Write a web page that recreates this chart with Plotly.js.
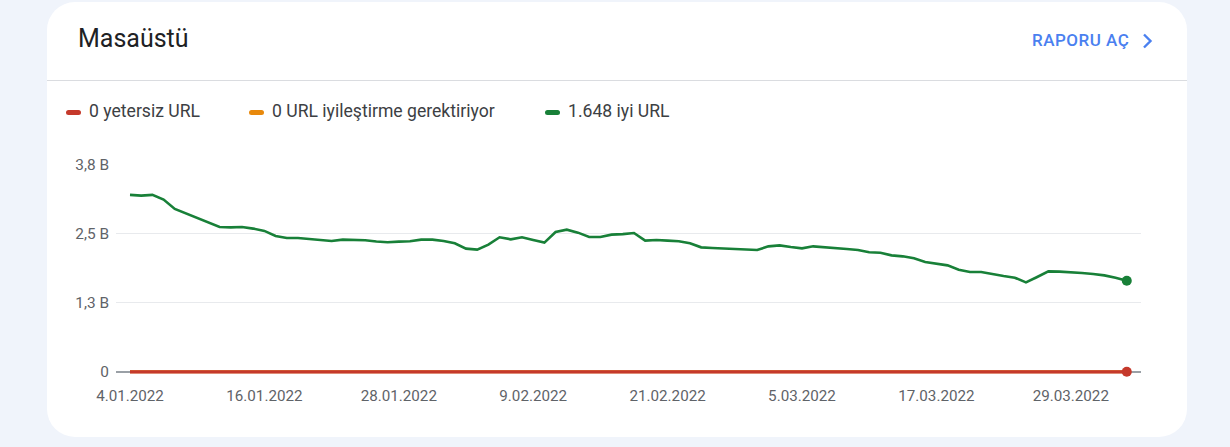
<!DOCTYPE html>
<html>
<head>
<meta charset="utf-8">
<script src="https://cdn.plot.ly/plotly-3.0.1.min.js"></script>
<style>
  html, body { margin:0; padding:0; width:1230px; height:447px; overflow:hidden; background:#f0f4fb; font-family:Roboto, "Noto Sans", sans-serif; }
  #card { position:absolute; left:47px; top:2px; width:1140px; height:435px; background:#fff; border-radius:28px; }
  #title { position:absolute; left:78px; top:24px; font-size:25px; color:#202124; font-weight:400; }
  #link { position:absolute; left:1032px; top:30px; font-size:17px; font-weight:500; color:#4a80f0; letter-spacing:0.5px; }
  #chev { position:absolute; left:1141px; top:33px; }
  #divider { position:absolute; left:47px; top:80px; width:1140px; height:1px; background:#dadce0; }
  .leg { position:absolute; top:101px; font-size:17.6px; color:#3c4043; white-space:nowrap; }
  .pill { position:absolute; top:9px; width:15px; height:5px; border-radius:3px; }
  .leg span.t { position:absolute; left:23px; top:0; }
  #chart { position:absolute; left:0; top:0; width:1230px; height:447px; }
</style>
</head>
<body>
<div id="card"></div>
<div id="title">Masaüstü</div>
<div id="link">RAPORU AÇ</div>
<svg id="chev" width="14" height="16" viewBox="0 0 14 16"><path d="M3 1.5 L9.5 8 L3 14.5" fill="none" stroke="#4a80f0" stroke-width="2.4"/></svg>
<div id="divider"></div>
<div id="legend"></div>
<div id="chart"></div>
<script>
// ---- data ----
var startDate = "2022-01-04";
var pointCount = 90;

var goodValues = [
  3201, 3188, 3201, 3116, 2947, 2868, 2777, 2699, 2621, 2614,
  2621, 2591, 2549, 2458, 2422, 2422, 2404, 2379, 2368, 2391,
  2391, 2379, 2358, 2343, 2355, 2361, 2391, 2391, 2367, 2325,
  2228, 2210, 2301, 2434, 2397, 2434, 2385, 2337, 2530, 2572,
  2518, 2440, 2440, 2482, 2491, 2512, 2373, 2385, 2373, 2361,
  2325, 2252, 2240, 2228, 2222, 2204, 2204, 2270, 2288, 2258,
  2234, 2270, 2258, 2234, 2222, 2204, 2162, 2153, 2107, 2089,
  2053, 1987, 1962, 1926, 1848, 1806, 1806, 1763, 1733, 1703,
  1618, 1715, 1817, 1812, 1793, 1787, 1769, 1745, 1703, 1648
];
var poorValues = [];          // 0 yetersiz URL
var needsImprovementValues = []; // 0 URL iyileştirme gerektiriyor
for (var k = 0; k < pointCount; k++) { poorValues.push(0); needsImprovementValues.push(0); }

var seriesNames = ["0 yetersiz URL", "0 URL iyileştirme gerektiriyor", "1.648 iyi URL"];
var seriesColors = ["#c5392b", "#e8890c", "#188038"];

var xTickVals = ["2022-01-04","2022-01-16","2022-01-28","2022-02-09","2022-02-21","2022-03-05","2022-03-17","2022-03-29"];
var xTickText = ["4.01.2022","16.01.2022","28.01.2022","9.02.2022","21.02.2022","5.03.2022","17.03.2022","29.03.2022"];
var yTickVals = [0, 1250, 2500, 3750];
var yTickText = ["0", "1,3 B", "2,5 B", "3,8 B"];

// ---- dates ----
function pad(n){ return (n<10?"0":"")+n; }
var dates = [];
var d0 = new Date(startDate + "T00:00:00Z");
for (var i = 0; i < pointCount; i++) {
  var d = new Date(d0.getTime() + i*86400000);
  dates.push(d.getUTCFullYear()+"-"+pad(d.getUTCMonth()+1)+"-"+pad(d.getUTCDate()));
}

// ---- legend (html) ----
var legLefts = [66, 249, 545];
var legend = document.getElementById("legend");
seriesNames.forEach(function(nm, j){
  var el = document.createElement("div");
  el.className = "leg";
  el.style.left = legLefts[j] + "px";
  el.innerHTML = '<div class="pill" style="background:'+seriesColors[j]+'"></div><span class="t">'+nm+'</span>';
  legend.appendChild(el);
});

function lastMarker(n, s){ var a=[]; for (var q=0;q<n;q++) a.push(q===n-1?s:0); return a; }

var traces = [
  { x: dates, y: needsImprovementValues, type:"scatter", mode:"lines", name:seriesNames[1],
    line:{color:seriesColors[1], width:3}, hoverinfo:"skip" },
  { x: dates, y: goodValues, type:"scatter", mode:"lines+markers", name:seriesNames[2],
    line:{color:seriesColors[2], width:2.6, shape:"linear"},
    marker:{color:seriesColors[2], size:lastMarker(pointCount, 10), opacity:1, line:{width:0}}, cliponaxis:false, hoverinfo:"skip" },
  { x: dates, y: poorValues, type:"scatter", mode:"lines+markers", name:seriesNames[0],
    line:{color:seriesColors[0], width:3.2},
    marker:{color:seriesColors[0], size:lastMarker(pointCount, 10), opacity:1, line:{width:0}}, cliponaxis:false, hoverinfo:"skip" }
];

var layout = {
  width:1230, height:447,
  margin:{l:116, r:89, t:164, b:73, pad:0},
  paper_bgcolor:"rgba(0,0,0,0)", plot_bgcolor:"rgba(0,0,0,0)",
  showlegend:false,
  font:{family:"Roboto, sans-serif", color:"#5f6368"},
  xaxis:{
    type:"date",
    range:["2022-01-02 18:00", "2022-04-04 06:30"],
    tickmode:"array", tickvals:xTickVals, ticktext:xTickText,
    showgrid:false, zeroline:false, showline:false, ticks:"",
    tickfont:{size:15.2, color:"#5f6368"},
    ticklabelstandoff:11
  },
  yaxis:{
    range:[-40, 3760],
    tickmode:"array", tickvals:yTickVals, ticktext:yTickText,
    showgrid:true, gridcolor:"#e8eaed", gridwidth:1,
    zeroline:true, zerolinecolor:"#9aa0a6", zerolinewidth:2,
    showline:false, ticks:"",
    tickfont:{size:15.4, color:"#5f6368"},
    ticklabelstandoff:6
  }
};

Plotly.newPlot("chart", traces, layout, {staticPlot:true, displayModeBar:false});
</script>
</body>
</html>
